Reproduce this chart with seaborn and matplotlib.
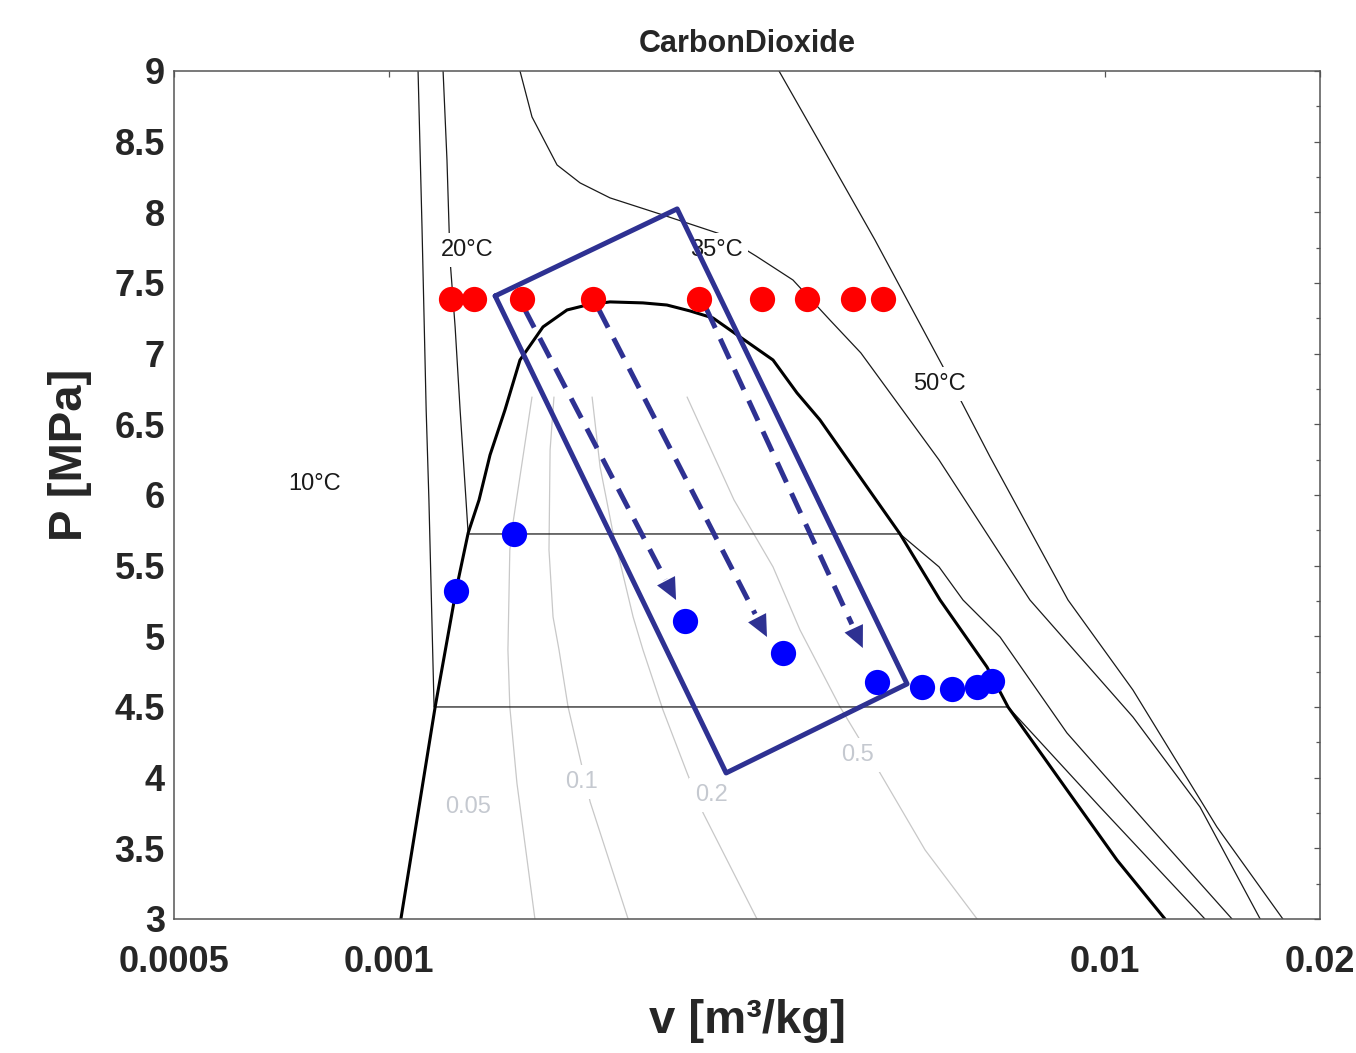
import numpy as np
import matplotlib
matplotlib.use("Agg")
import matplotlib.pyplot as plt
from matplotlib.ticker import FixedLocator, NullLocator
import seaborn as sns

# saturation dome of CO2 (v in m3/kg, P in MPa)
dome_v = [0.001038, 0.001076, 0.001159, 0.001240, 0.001289, 0.001335, 0.001383, 0.001451,
          0.001523, 0.001640, 0.001772, 0.001889, 0.002035, 0.002262, 0.002444, 0.002633,
          0.002835, 0.003093, 0.003439, 0.003715, 0.004000, 0.004378, 0.005176, 0.005888,
          0.006847, 0.007328, 0.008859, 0.010406, 0.012144]
dome_p = [3.0, 3.488, 4.5, 5.328, 5.731, 5.965, 6.283, 6.601,
          6.955, 7.189, 7.309, 7.344, 7.366, 7.359, 7.344, 7.302,
          7.252, 7.118, 6.955, 6.722, 6.531, 6.248, 5.724, 5.257,
          4.783, 4.5, 3.913, 3.417, 3.0]

# isotherms
t10_v = [0.001097, 0.001111, 0.001126, 0.001136, 0.001155, 0.007328, 0.009854, 0.01381]
t10_p = [9.0, 7.896, 6.601, 5.965, 4.5, 4.5, 3.792, 3.0]
t20_v = [0.001189, 0.001204, 0.001216, 0.001236, 0.001256, 0.001280, 0.001289,
         0.005176, 0.005869, 0.006339, 0.007142, 0.008859, 0.01157, 0.01507]
t20_p = [9.0, 8.370, 7.663, 7.189, 6.601, 5.965, 5.724,
         5.724, 5.491, 5.257, 4.995, 4.316, 3.651, 3.0]
t35_v = [0.001523, 0.001583, 0.001716, 0.001848, 0.002035, 0.002413, 0.002900, 0.003255,
         0.003667, 0.004130, 0.004563, 0.005868, 0.007863, 0.010955, 0.013596, 0.0165]
t35_p = [9.0, 8.675, 8.335, 8.208, 8.102, 7.981, 7.847, 7.691,
         7.521, 7.238, 7.005, 6.248, 5.257, 4.429, 3.792, 3.0]
t50_v = [0.003506, 0.004000, 0.004775, 0.005926, 0.006320, 0.006917, 0.008888,
         0.010955, 0.014355, 0.01775]
t50_p = [9.0, 8.491, 7.804, 6.920, 6.651, 6.269, 5.257, 4.620, 3.651, 3.0]

# constant quality lines
x005_v = [0.001583, 0.001489, 0.001474, 0.001465, 0.001474, 0.001508, 0.001598]
x005_p = [6.693, 5.802, 5.611, 4.903, 4.5, 3.962, 3.0]
x01_v = [0.001699, 0.001678, 0.001672, 0.001694, 0.001727, 0.001778, 0.001860, 0.001909, 0.002157]
x01_p = [6.693, 6.318, 5.611, 5.137, 4.903, 4.5, 4.075, 3.828, 3.0]
x02_v = [0.001921, 0.001971, 0.002055, 0.002192, 0.002263, 0.002413, 0.002608, 0.002746, 0.003266]
x02_p = [6.693, 6.198, 5.731, 5.137, 4.903, 4.479, 4.033, 3.750, 3.0]
x05_v = [0.002608, 0.003033, 0.003439, 0.003751, 0.004267, 0.004853, 0.005611, 0.006633]
x05_p = [6.693, 5.965, 5.491, 5.045, 4.5, 4.033, 3.488, 3.0]

# measured states
red_v = [0.001220, 0.001313, 0.001533, 0.001927, 0.002710, 0.003319, 0.003837, 0.004449, 0.004899]
red_p = [7.39] * 9
blue_v = [0.001240, 0.001494, 0.002591, 0.003552, 0.004806, 0.005553, 0.006118, 0.006633, 0.006960]
blue_p = [5.321, 5.724, 5.109, 4.882, 4.677, 4.642, 4.627, 4.642, 4.684]

# highlighted region and expansion arrows
box_v = [0.001406, 0.002526, 0.005295, 0.002957, 0.001406]
box_p = [7.408, 8.024, 4.663, 4.033, 7.408]
arrow_start_v = [0.001543, 0.001958, 0.002772]
arrow_start_p = [7.323, 7.323, 7.323]
arrow_end_v = [0.002517, 0.003373, 0.004592]
arrow_end_p = [5.257, 4.995, 4.917]

iso_labels = ["10°C", "20°C", "35°C", "50°C"]
iso_label_v = [0.000785, 0.001284, 0.002862, 0.005868]
iso_label_p = [6.078, 7.734, 7.734, 6.785]
q_labels = ["0.05", "0.1", "0.2", "0.5"]
q_label_v = [0.001288, 0.001854, 0.002817, 0.004520]
q_label_p = [3.792, 3.969, 3.877, 4.160]

x_ticks = [0.0005, 0.001, 0.01, 0.02]
x_ticklabels = ["0.0005", "0.001", "0.01", "0.02"]
y_ticks = [3, 3.5, 4, 4.5, 5, 5.5, 6, 6.5, 7, 7.5, 8, 8.5, 9]
y_ticklabels = ["3", "3.5", "4", "4.5", "5", "5.5", "6", "6.5", "7", "7.5", "8", "8.5", "9"]

navy = "#2e3192"

sns.set_style("white")
plt.rcParams['font.family'] = ['Liberation Sans', 'DejaVu Sans']

fig = plt.figure(figsize=(13.56, 10.53), dpi=100)
ax = fig.add_axes([0.1283, 0.1273, 0.8451, 0.8053])
ax.set_xscale("log")

for qv, qp in [(x005_v, x005_p), (x01_v, x01_p), (x02_v, x02_p), (x05_v, x05_p)]:
    sns.lineplot(x=qv, y=qp, sort=False, estimator=None, color="#c8c8c8", linewidth=0.9, ax=ax, zorder=1)

for tv, tp in [(t10_v, t10_p), (t20_v, t20_p), (t35_v, t35_p), (t50_v, t50_p)]:
    sns.lineplot(x=tv, y=tp, sort=False, estimator=None, color="#1a1a1a", linewidth=0.9, ax=ax, zorder=2)

sns.lineplot(x=dome_v, y=dome_p, sort=False, estimator=None, color="black", linewidth=2.2, ax=ax, zorder=2)

# curve labels
for lab, lv, lp in zip(iso_labels, iso_label_v, iso_label_p):
    ax.text(lv, lp, lab, fontsize=17, color="#1a1a1a", ha="center", va="center", zorder=3,
            bbox=dict(boxstyle="square,pad=0.25", fc="white", ec="none"))
for lab, lv, lp in zip(q_labels, q_label_v, q_label_p):
    ax.text(lv, lp, lab, fontsize=17, color="#c5c9d0", ha="center", va="center", zorder=3,
            bbox=dict(boxstyle="square,pad=0.25", fc="white", ec="none"))

sns.lineplot(x=box_v, y=box_p, sort=False, estimator=None, color=navy, linewidth=3.6, ax=ax, zorder=4)

for sv, sp, ev, ep in zip(arrow_start_v, arrow_start_p, arrow_end_v, arrow_end_p):
    # shaft stops a little before the tip so the head stays sharp
    mv = 10 ** (np.log10(sv) + 0.93 * (np.log10(ev) - np.log10(sv)))
    mp = sp + 0.93 * (ep - sp)
    sns.lineplot(x=[sv, mv], y=[sp, mp], sort=False, estimator=None, color=navy, linewidth=3.6,
                 linestyle=(0, (4.4, 2.4)), ax=ax, zorder=4)
    ax.annotate("", xy=(ev, ep), xytext=(sv, sp), zorder=4,
                arrowprops=dict(arrowstyle="-|>,head_length=0.6,head_width=0.28", lw=0,
                                color=navy, mutation_scale=26, shrinkA=0, shrinkB=0))

sns.scatterplot(x=red_v, y=red_p, color="#ff0000", s=330, linewidth=0, ax=ax, zorder=5)
sns.scatterplot(x=blue_v, y=blue_p, color="#0000ff", s=330, linewidth=0, ax=ax, zorder=5)

ax.set_xlim(0.0005, 0.02)
ax.set_ylim(3, 9)
ax.xaxis.set_major_locator(FixedLocator(x_ticks))
ax.xaxis.set_minor_locator(NullLocator())
ax.set_xticklabels(x_ticklabels)
ax.yaxis.set_major_locator(FixedLocator(y_ticks))
ax.yaxis.set_minor_locator(FixedLocator([t + 0.25 for t in y_ticks[:-1]]))
ax.set_yticklabels(y_ticklabels)

for sp in ax.spines.values():
    sp.set_visible(True)
    sp.set_color("#555555")
    sp.set_linewidth(1.1)

ax.tick_params(axis="both", which="both", direction="in", top=True, right=True,
               color="#555555", width=0.9)
ax.tick_params(axis="both", which="major", length=4.5)
ax.tick_params(axis="both", which="minor", length=3)
ax.tick_params(axis="x", which="major", pad=19, labelsize=26)
ax.tick_params(axis="y", which="major", pad=6.5, labelsize=26)
for lbl in ax.get_xticklabels() + ax.get_yticklabels():
    lbl.set_fontweight("bold")

ax.set_xlabel("v [m³/kg]", fontsize=34, fontweight="bold")
ax.set_ylabel("P [MPa]", fontsize=34, fontweight="bold")
ax.xaxis.set_label_coords(0.5, -0.094)
ax.yaxis.set_label_coords(-0.0716, 0.547)
ax.set_title("CarbonDioxide", fontsize=22, fontweight="bold", pad=14)

fig.savefig("out.png", dpi=100)
